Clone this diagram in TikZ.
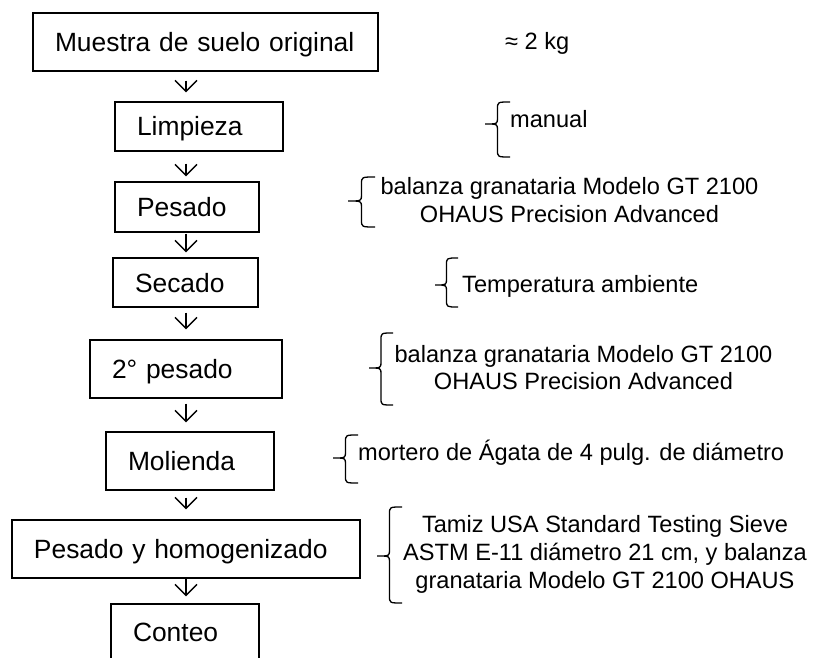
\documentclass[tikz,border=0pt]{standalone}
\usepackage{fontspec}
\setmainfont{Liberation Sans}
\usetikzlibrary{arrows.meta,calc}
% curly brace: #1 tip x, #2 end x, #3 top y, #4 bottom y, #5 tip y
\newcommand{\curlybr}[5]{%
  \pgfmathsetmacro{\xm}{(#1+#2)/2}%
  \draw[brline] (#2,#3) .. controls (\xm,#3) .. (\xm,#3-7)
     -- (\xm,#5+6) .. controls (\xm,#5) .. (#1,#5)
     .. controls (\xm,#5) .. (\xm,#5-6)
     -- (\xm,#4+7) .. controls (\xm,#4) .. (#2,#4);}
\begin{document}
\begin{tikzpicture}[x=1pt,y=1pt,
  box/.style={draw, line width=1.4pt, rectangle, inner xsep=22pt, inner ysep=0pt,
    align=left, font=\fontsize{26.4}{30}\selectfont, text height=19pt, text depth=0pt, anchor=center},
  note/.style={font=\fontsize{23.6}{28}\selectfont, inner sep=0pt},
  arr/.style={line width=1.3pt, -{Straight Barb[length=11pt,width=22pt,line width=1.3pt]}},
  brline/.style={line width=1.3pt}
]
\clip (0,0) rectangle (815,-658);
\fill[white] (0,0) rectangle (815,-658);
\coordinate (ax) at (186,0);

% boxes
\node[box, text width=301pt, minimum height=58pt] (b1) at (205.5,-42) {Muestra de suelo original};
\node[box, text width=124pt, minimum height=49pt] (b2) at (199,-126.5) {Limpieza};
\node[box, text width=100pt, minimum height=50pt] (b3) at (187,-207) {Pesado};
\node[box, text width=101pt, minimum height=49pt] (b4) at (185.5,-282.5) {Secado};
\node[box, text width=148pt, minimum height=58pt] (b5) at (186,-369) {2° pesado};
\node[box, text width=124pt, minimum height=58pt] (b6) at (190,-461) {Molienda};
\node[box, text width=304pt, minimum height=58pt] (b7) at (186,-549) {Pesado y homogenizado};
\node[box, text width=104pt, minimum height=56pt] (b8) at (185,-632) {Conteo};

% arrows
\draw[arr] ($(b1.south -| ax)+(0,-9)$) -- ($(b2.north -| ax)+(0,9)$);
\draw[arr] ($(b2.south -| ax)+(0,-12)$) -- ($(b3.north -| ax)+(0,5)$);
\draw[arr] ($(b3.south -| ax)+(0,-1)$) -- ($(b4.north -| ax)+(0,5)$);
\draw[arr] ($(b4.south -| ax)+(0,-5)$) -- ($(b5.north -| ax)+(0,10)$);
\draw[arr] ($(b5.south -| ax)+(0,-5)$) -- ($(b6.north -| ax)+(0,9)$);
\draw[arr] ($(b6.south -| ax)+(0,-7)$) -- ($(b7.north -| ax)+(0,10)$);
\draw[arr] (b7.south -| ax) -- ($(b8.north -| ax)+(0,7)$);

% notes
\node[note, anchor=base west] (n1) at (505,-50) {≈ 2 kg};
\node[note, anchor=base west] (n2) at (510,-128) {manual};
\node[note, anchor=base] (n3) at (569.5,-195) {\begin{tabular}[t]{@{}c@{}}balanza granataria Modelo GT 2100\\OHAUS Precision Advanced\end{tabular}};
\node[note, anchor=base west] (n4) at (462,-292) {Temperatura ambiente};
\node[note, anchor=base] (n5) at (583.5,-362) {\begin{tabular}[t]{@{}c@{}}balanza granataria Modelo GT 2100\\OHAUS Precision Advanced\end{tabular}};
\node[note, anchor=base west] (n6) at (358,-460) {mortero de Ágata de 4 pulg. de diámetro};
\node[note, anchor=base] (n7) at (605,-532) {\begin{tabular}[t]{@{}c@{}}Tamiz USA Standard Testing Sieve\\ASTM E-11 diámetro 21 cm, y balanza\\granataria Modelo GT 2100 OHAUS\end{tabular}};

% braces
\curlybr{485}{510}{-102}{-157}{-124}
\curlybr{348}{375}{-177}{-227}{-201}
\curlybr{435}{458}{-258}{-307}{-285}
\curlybr{369}{393}{-333}{-405}{-368}
\curlybr{333}{358}{-435}{-483}{-458}
\curlybr{377}{402}{-507}{-603}{-556}
\end{tikzpicture}
\end{document}
